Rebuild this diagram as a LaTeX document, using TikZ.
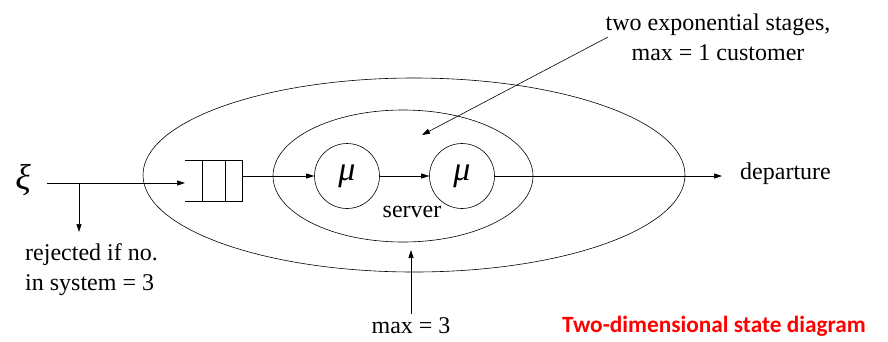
\documentclass[tikz,border=0pt]{standalone}
\usepackage{fontspec}
\setmainfont{Liberation Serif}
\newfontfamily\calib{Carlito}
\usetikzlibrary{arrows.meta}
\begin{document}
\begin{tikzpicture}[x=1pt,y=-1pt,
  ln/.style={line width=0.6pt},
  arr/.style={ln,-{Triangle[length=8pt,width=5pt]}},
  stage/.style={circle,draw,line width=0.6pt,minimum size=65pt,inner sep=0pt,font=\itshape\fontsize{34}{34}\selectfont},
  lbl/.style={font=\fontsize{24}{30}\selectfont,align=center,inner sep=0pt}]
\useasboundingbox (0,0) rectangle (888,341);
% ellipses
\draw[ln] (414,175) ellipse [x radius=271,y radius=97];
\draw[ln] (403,176) ellipse [x radius=130,y radius=66];
% stages
\node[stage] (m1) at (347,176) {μ};
\node[stage] (m2) at (462,176) {μ};
% queue
\draw[ln] (185,160) -- (242,160) -- (242,201) -- (185,201);
\draw[ln] (202,160) -- (202,201);
\draw[ln] (225,160) -- (225,201);
\coordinate (qin) at (185,183);
\coordinate (qout) at (242,176);
% input
\node[lbl,font=\itshape\fontsize{36}{36}\selectfont] (xi) at (23,180) {ξ};
\coordinate (src) at (47,183);
\coordinate (br) at (79,183);
\coordinate (rej) at (79,232);
\draw[arr] (src) -- (qin);
\draw[arr] (br) -- (rej);
\node[lbl,align=left,anchor=base west] (rejt) at (25,290) {rejected if no.\\in system = 3};
% flow
\draw[arr] (qout) -- (m1);
\draw[arr] (m1) -- (m2);
\coordinate (dep) at (722,176);
\draw[arr] (m2) -- (dep);
\node[lbl,anchor=west] (dept) at (740,174) {departure};
\node[lbl] (srv) at (412,212) {server};
% annotations
\node[lbl,anchor=base] (two) at (718,60) {two exponential stages,\\max = 1 customer};
\coordinate (twoa) at (608,37);
\coordinate (twob) at (422,135);
\draw[arr] (twoa) -- (twob);
\node[lbl] (max3) at (411,326) {max = 3};
\coordinate (mxa) at (411,314);
\coordinate (mxb) at (411,250);
\draw[arr] (mxa) -- (mxb);
\node[inner sep=0pt,anchor=east,text=red,font=\calib\bfseries\fontsize{23.3}{26}\selectfont] (cap) at (866,326) {Two-dimensional state diagram};
\end{tikzpicture}
\end{document}
